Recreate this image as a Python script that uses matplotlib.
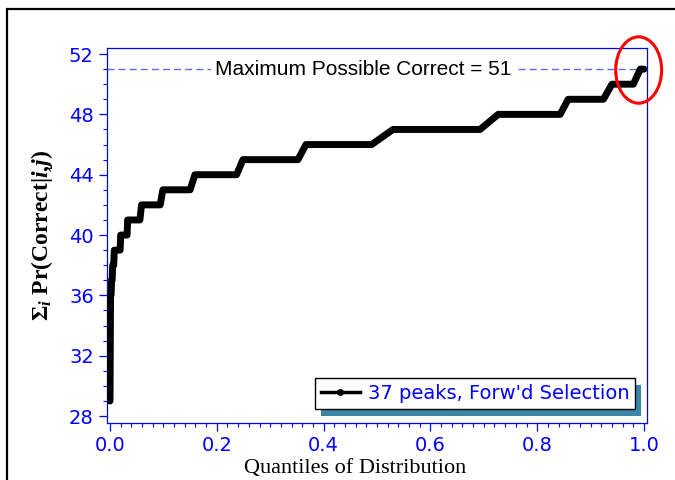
import matplotlib
matplotlib.use("Agg")
import matplotlib.pyplot as plt
from matplotlib.patches import Ellipse, Rectangle
from matplotlib.ticker import MultipleLocator

# start / end quantile of each plateau and its cumulative correct count
q_start = [0.0, 0.001, 0.003, 0.005, 0.008, 0.020, 0.033, 0.059, 0.099,
           0.159, 0.249, 0.367, 0.530, 0.727, 0.858, 0.940, 0.993]
q_end = [0.0, 0.002, 0.004, 0.007, 0.019, 0.032, 0.056, 0.094, 0.150,
         0.237, 0.352, 0.490, 0.693, 0.843, 0.924, 0.980, 1.0]
levels = [29, 36, 37, 38, 39, 40, 41, 42, 43, 44, 45, 46, 47, 48, 49, 50, 51]

max_correct = 51
series_label = "37 peaks, Forw'd Selection"
BLUE = "#0000ff"

plt.rcParams["mathtext.fontset"] = "custom"
plt.rcParams["mathtext.rm"] = "Liberation Serif:bold"
plt.rcParams["mathtext.it"] = "Liberation Serif:italic:bold"
plt.rcParams["mathtext.bf"] = "Liberation Serif:bold"

fig = plt.figure(figsize=(6.75, 4.8), dpi=100)
ax = fig.add_axes([107 / 675, 57 / 480, 540 / 675, 375 / 480])

xs, ys = [], []
for a, b, v in zip(q_start, q_end, levels):
    xs += [a, b]
    ys += [v, v]
ax.plot(xs, ys, color="black", lw=5, solid_joinstyle="round",
        solid_capstyle="round", zorder=3)

# legend handle only (line with dots)
ax.plot([], [], color="black", lw=2.5, marker="o", markersize=4,
        label=series_label)

ax.axhline(max_correct, color="#6666ee", lw=1, ls=(0, (5, 3)), zorder=2)
ax.text(0.475, max_correct, "Maximum Possible Correct = 51", ha="center",
        va="center", fontsize=15, family="Liberation Sans", zorder=2.5,
        bbox=dict(facecolor="white", edgecolor="none", pad=3))

ax.add_patch(Ellipse((0.99, 50.94), 0.086, 4.4, fill=False, edgecolor="red",
                     lw=2.2, clip_on=False, zorder=6))

ax.set_xlim(-3 / 534, 1 + 3 / 534)
ax.set_ylim(27.54, 52.4)
ax.xaxis.set_major_locator(MultipleLocator(0.2))
ax.xaxis.set_minor_locator(MultipleLocator(0.02))
ax.yaxis.set_major_locator(MultipleLocator(4))
ax.yaxis.set_minor_locator(MultipleLocator(1))
ax.xaxis.set_major_formatter(matplotlib.ticker.FormatStrFormatter("%.1f"))

for s in ax.spines.values():
    s.set_color(BLUE)
    s.set_linewidth(0.9)
ax.tick_params(which="both", colors=BLUE, labelsize=14, direction="out")
ax.tick_params(which="major", length=6, width=0.9)
ax.tick_params(which="minor", length=3, width=0.8)

leg = ax.legend(loc="lower right", bbox_to_anchor=(0.978, 0.037),
                borderaxespad=0, fancybox=False, framealpha=1,
                edgecolor="black", fontsize=14, handlelength=2.0,
                handletextpad=0.4, borderpad=0.3, labelcolor=BLUE)
leg.get_frame().set_linewidth(1)
leg.set_zorder(5)

fig.canvas.draw()
bb = leg.get_window_extent().transformed(fig.transFigure.inverted())
dx, dy = 6 / 675, 7 / 480
ax.add_patch(Rectangle((bb.x0 + dx, bb.y0 - dy), bb.width, bb.height,
                       transform=fig.transFigure, facecolor="#3a86a8",
                       edgecolor="none", clip_on=False, zorder=4.9))

ax.set_ylabel("Σ$_i$ Pr(Correct|$i$,$j$)", family="Liberation Serif",
              fontweight="bold", fontsize=17, labelpad=10)
fig.text(355 / 675, 12 / 480, "Quantiles of Distribution",
         family="Liberation Serif", fontsize=16, ha="center", va="center")

# outer frame
fig.patches.append(Rectangle((7 / 675, -0.1), 1.2, 1.1 - 9 / 480,
                             transform=fig.transFigure, fill=False,
                             edgecolor="black", lw=1.6))

fig.savefig("out.png", dpi=100)
